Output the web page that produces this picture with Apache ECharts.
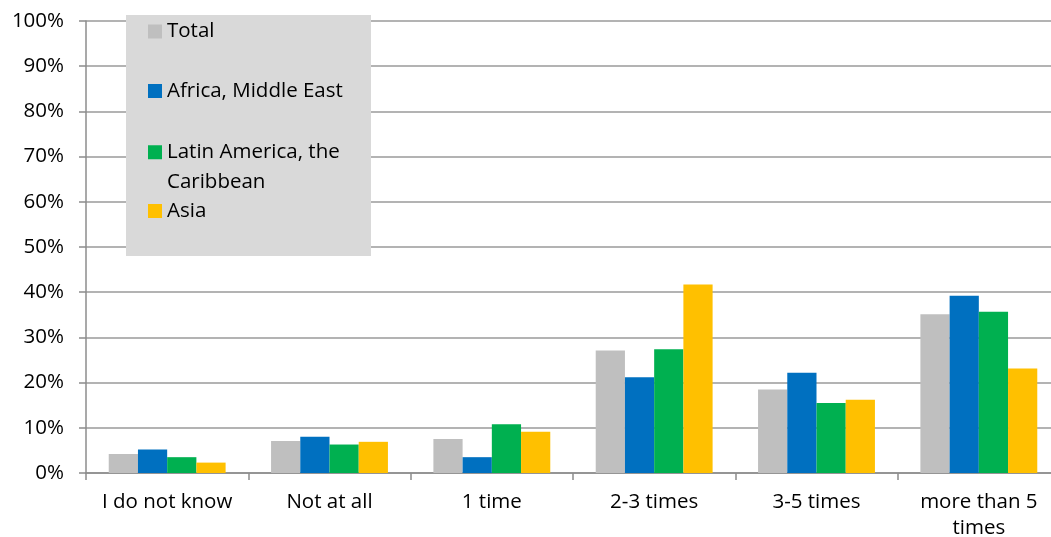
<!DOCTYPE html>
<html>
<head>
<meta charset="utf-8">
<script src="https://cdn.jsdelivr.net/npm/echarts@6/dist/echarts.min.js"></script>
<style>
  html, body { margin: 0; padding: 0; background: #fff; }
  #chart { width: 1051px; height: 537px; }
</style>
</head>
<body>
<div id="chart"></div>
<script>
// Categories and shares (%) per region
const categories = ['I do not know', 'Not at all', '1 time', '2-3 times', '3-5 times', 'more than 5\ntimes'];
const total        = [4.2, 7.1, 7.5, 27.1, 18.5, 35.1];
const africaME     = [5.2, 8.0, 3.5, 21.2, 22.2, 39.2];
const latinAmerica = [3.5, 6.3, 10.8, 27.4, 15.5, 35.7];
const asia         = [2.3, 6.9, 9.1, 41.7, 16.2, 23.1];
const seriesNames  = ['Total', 'Africa, Middle East', 'Latin America, the\nCaribbean', 'Asia'];
const colors       = ['#bfbfbf', '#0070c0', '#00b050', '#ffc000'];

const FONT = 'Open Sans';
const FS = 20.5;
// one legend block per entry, so each can sit at its own height
const legendTops = [19.5, 79, 108, 199];

const chart = echarts.init(document.getElementById('chart'));

const mkSeries = (name, data, color) => ({
  name: name,
  type: 'bar',
  data: data,
  barGap: '0%',
  barCategoryGap: '28%',
  itemStyle: { color: color },
  emphasis: { disabled: true }
});

chart.setOption({
  animation: false,
  textStyle: { fontFamily: FONT },
  grid: { left: 86, right: -9, top: 21, bottom: 64, containLabel: false, outerBoundsMode: 'none' },
  graphic: [{
    type: 'rect',
    z: 5,
    shape: { x: 126, y: 15, width: 245, height: 241 },
    style: { fill: '#d9d9d9' }
  }],
  legend: seriesNames.map((n, i) => {
    const multi = n.indexOf('\n') >= 0;
    return {
      data: [n],
      left: 148,
      top: legendTops[i],
      padding: 0,
      orient: 'vertical',
      itemWidth: 14,
      itemHeight: 14,
      itemGap: 0,
      selectedMode: false,
      icon: 'rect',
      z: 10,
      // a wrapped entry gets a blank leading line so its swatch sits beside the first line
      formatter: multi ? (name) => ' \n' + name : '{name}',
      textStyle: { fontFamily: FONT, fontSize: FS, color: '#000', lineHeight: multi ? 29.5 : 24 }
    };
  }),
  xAxis: {
    type: 'category',
    data: categories,
    axisLine: { lineStyle: { color: '#8c8c8c', width: 1.5 } },
    axisTick: { show: true, length: 7, alignWithLabel: false, lineStyle: { color: '#8c8c8c', width: 1.5 } },
    axisLabel: { color: '#000', fontFamily: FONT, fontSize: FS, margin: 16, lineHeight: 26, interval: 0 }
  },
  yAxis: {
    type: 'value',
    min: 0,
    max: 100,
    interval: 10,
    axisLine: { show: true, lineStyle: { color: '#8c8c8c', width: 1.5 } },
    axisTick: { show: true, length: 7, lineStyle: { color: '#8c8c8c', width: 1.5 } },
    axisLabel: { color: '#000', fontFamily: FONT, fontSize: FS, margin: 22, formatter: '{value}%' },
    splitLine: { lineStyle: { color: '#9a9a9a', width: 1.5 } }
  },
  series: [
    mkSeries(seriesNames[0], total, colors[0]),
    mkSeries(seriesNames[1], africaME, colors[1]),
    mkSeries(seriesNames[2], latinAmerica, colors[2]),
    mkSeries(seriesNames[3], asia, colors[3])
  ]
});
</script>
</body>
</html>
